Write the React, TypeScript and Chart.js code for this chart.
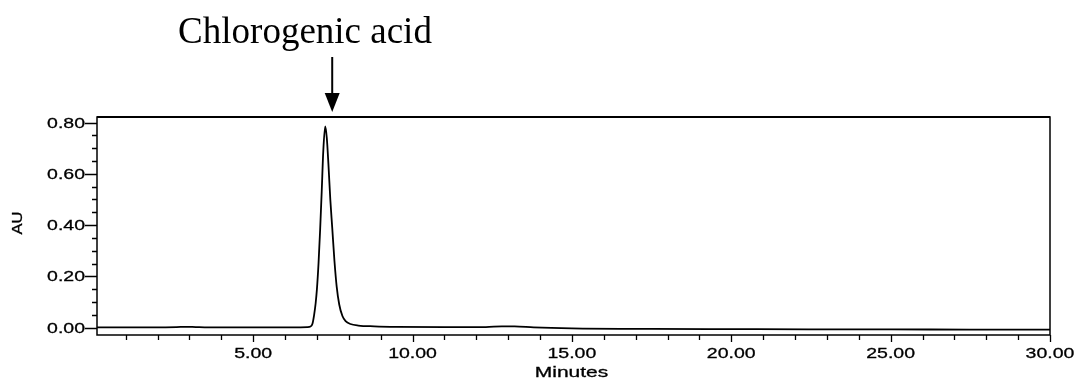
import React, { useEffect, useRef } from "react";
import { Chart, registerables } from "chart.js";

Chart.register(...registerables);

// Chromatogram trace: retention time (min) and detector response (AU)
const retentionTime = [
  0.1, 1.0, 2.0, 2.6, 2.9, 3.2, 3.6, 4.5, 5.5, 6.3, 6.7, 6.8, 6.86, 6.91, 6.96,
  7.0, 7.05, 7.1, 7.15, 7.2, 7.26, 7.31, 7.36, 7.42, 7.48, 7.55, 7.62, 7.7, 7.8,
  7.9, 8.05, 8.3, 8.8, 9.5, 11.0, 12.3, 12.8, 13.2, 13.8, 15.0, 17.5, 20.0,
  22.5, 25.0, 27.5, 30.0,
];
const absorbance = [
  0.001, 0.001, 0.001, 0.002, 0.003, 0.002, 0.001, 0.001, 0.001, 0.001, 0.002,
  0.004, 0.015, 0.048, 0.095, 0.15, 0.25, 0.38, 0.53, 0.69, 0.785, 0.74, 0.64,
  0.5, 0.39, 0.26, 0.16, 0.09, 0.045, 0.025, 0.014, 0.008, 0.005, 0.003, 0.002,
  0.002, 0.005, 0.005, 0.001, -0.003, -0.005, -0.006, -0.007, -0.007, -0.008,
  -0.008,
];

const xMajorTicks = [5, 10, 15, 20, 25, 30];
const xMinorTicks = [
  1, 2, 3, 4, 6, 7, 8, 9, 11, 12, 13, 14, 16, 17, 18, 19, 21, 22, 23, 24, 26,
  27, 28, 29,
];
const yMajorTicks = [0, 0.2, 0.4, 0.6, 0.8];
const yMinorTicks = [0.05, 0.1, 0.15, 0.25, 0.3, 0.35, 0.45, 0.5, 0.55, 0.65, 0.7, 0.75];

const peakName = "Chlorogenic acid";
const peakTime = 7.26;
const xTitle = "Minutes";
const yTitle = "AU";

const SANS = "'Liberation Sans', Arial, sans-serif";
const SERIF = "'Liberation Serif', 'Times New Roman', serif";

// Draws text stretched horizontally (wide instrument-style lettering)
function wideText(
  ctx: CanvasRenderingContext2D,
  text: string,
  x: number,
  y: number,
  font: string,
  align: CanvasTextAlign,
  baseline: CanvasTextBaseline,
  sx: number
) {
  ctx.save();
  ctx.translate(x, y);
  ctx.scale(sx, 1);
  ctx.font = font;
  ctx.textAlign = align;
  ctx.textBaseline = baseline;
  ctx.fillStyle = "#000";
  ctx.strokeStyle = "#000";
  ctx.lineWidth = 0.3;
  ctx.fillText(text, 0, 0);
  ctx.strokeText(text, 0, 0);
  ctx.restore();
}

const axesPlugin = {
  id: "chromAxes",
  afterDraw(chart: any) {
    const { ctx, chartArea, scales } = chart;
    const xs = scales.x;
    const ys = scales.y;
    const { left, right, top, bottom } = chartArea;
    ctx.save();
    ctx.strokeStyle = "#000";

    // frame
    ctx.lineWidth = 1.5;
    ctx.strokeRect(left, top, right - left, bottom - top);
    ctx.lineWidth = 2;
    ctx.beginPath();
    ctx.moveTo(left, top);
    ctx.lineTo(right, top);
    ctx.stroke();

    // x ticks
    ctx.lineWidth = 1.3;
    ctx.beginPath();
    xMinorTicks.forEach((v) => {
      const px = Math.round(xs.getPixelForValue(v)) + 0.5;
      ctx.moveTo(px, bottom);
      ctx.lineTo(px, bottom + 5);
    });
    xMajorTicks.forEach((v) => {
      const px = Math.round(xs.getPixelForValue(v)) + 0.5;
      ctx.moveTo(px, bottom);
      ctx.lineTo(px, bottom + 7);
    });
    // y ticks
    yMinorTicks.forEach((v) => {
      const py = Math.round(ys.getPixelForValue(v)) + 0.5;
      ctx.moveTo(left, py);
      ctx.lineTo(left - 5, py);
    });
    yMajorTicks.forEach((v) => {
      const py = Math.round(ys.getPixelForValue(v)) + 0.5;
      ctx.moveTo(left, py);
      ctx.lineTo(left - 12, py);
    });
    ctx.stroke();

    // tick labels
    const tickFont = `15px ${SANS}`;
    xMajorTicks.forEach((v) => {
      wideText(ctx, v.toFixed(2), xs.getPixelForValue(v), bottom + 23, tickFont, "center", "alphabetic", 1.3);
    });
    yMajorTicks.forEach((v) => {
      wideText(ctx, v.toFixed(2), left - 12, ys.getPixelForValue(v) + 1, tickFont, "right", "middle", 1.3);
    });

    // axis titles
    wideText(ctx, xTitle, (left + right) / 2 - 2, 377, `15px ${SANS}`, "center", "alphabetic", 1.4);
    ctx.save();
    ctx.translate(18, 223);
    ctx.rotate(-Math.PI / 2);
    wideText(ctx, yTitle, 0, 0, `15px ${SANS}`, "center", "middle", 1.1);
    ctx.restore();

    // peak annotation with arrow
    const ax = xs.getPixelForValue(peakTime) + 7;
    ctx.fillStyle = "#000";
    ctx.font = `37px ${SERIF}`;
    ctx.textAlign = "center";
    ctx.textBaseline = "alphabetic";
    ctx.fillText(peakName, 305, 43);
    ctx.lineWidth = 2;
    ctx.beginPath();
    ctx.moveTo(ax, 57);
    ctx.lineTo(ax, 96);
    ctx.stroke();
    ctx.beginPath();
    ctx.moveTo(ax - 7.5, 93);
    ctx.lineTo(ax + 7.5, 93);
    ctx.lineTo(ax, top - 5);
    ctx.closePath();
    ctx.fill();
    ctx.restore();
  },
};

export default function App() {
  const canvasRef = useRef<HTMLCanvasElement | null>(null);

  useEffect(() => {
    if (!canvasRef.current) return;
    const chart = new Chart(canvasRef.current, {
      type: "line",
      data: {
        datasets: [
          {
            data: retentionTime.map((t, i) => ({ x: t, y: absorbance[i] })),
            borderColor: "#000",
            borderWidth: 1.8,
            pointRadius: 0,
            cubicInterpolationMode: "monotone",
            fill: false,
          },
        ],
      },
      options: {
        animation: false,
        responsive: false,
        layout: { padding: { left: 97, right: 30, top: 117, bottom: 48 } },
        plugins: { legend: { display: false }, tooltip: { enabled: false } },
        scales: {
          x: { type: "linear", min: 0.1, max: 30, display: false },
          y: { type: "linear", min: -0.029, max: 0.822, display: false },
        },
      },
      plugins: [axesPlugin],
    });
    return () => chart.destroy();
  }, []);

  return (
    <div style={{ position: "absolute", left: 0, top: 0, width: 1080, height: 383, background: "#fff" }}>
      <canvas ref={canvasRef} width={1080} height={383} style={{ display: "block" }} />
    </div>
  );
}
